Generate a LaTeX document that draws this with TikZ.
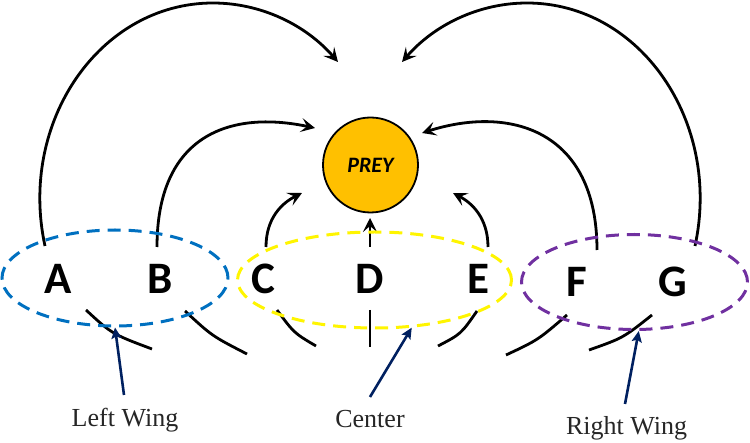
\documentclass[tikz,border=0pt]{standalone}
\usepackage{fontspec}
\setmainfont{Liberation Serif}
\newfontfamily\calfont{Carlito}
\usetikzlibrary{arrows.meta,shapes.geometric}
\definecolor{wingblue}{HTML}{0070C0}
\definecolor{centeryellow}{HTML}{FFF500}
\definecolor{wingpurple}{HTML}{7030A0}
\definecolor{pointernavy}{HTML}{002060}
\definecolor{preyfill}{HTML}{FFC000}
\begin{document}
\begin{tikzpicture}[x=1pt,y=-1pt,
  arr/.style={line width=2.8pt,-{Stealth[length=14pt,width=14pt,inset=6pt]}},
  stub/.style={line width=2.8pt},
  player/.style={font=\calfont\bfseries\fontsize{45}{45}\selectfont,anchor=base,inner sep=0pt},
  group/.style={ellipse,line width=3pt,dash pattern=on 13pt off 8pt,inner sep=0pt},
  pointer/.style={draw=pointernavy,line width=2.6pt,-{Stealth[length=11pt,width=10pt,inset=2pt]}},
  caption/.style={font=\fontsize{26}{26}\selectfont,anchor=base,inner sep=0pt,text=black!85},
  prey/.style={circle,draw=black,line width=1.8pt,fill=preyfill,minimum size=95pt,inner sep=0pt,
    font=\calfont\bfseries\itshape\fontsize{22}{22}\selectfont}]
\useasboundingbox (0,0) rectangle (750,443);

% prey
\node[prey] (prey) at (370.5,165) {PREY};

% start points and tips of the attacking runs
\coordinate (sA) at (45,246);
\coordinate (topA) at (213,3);
\coordinate (tA) at (338,62);
\coordinate (sG) at (695,246);
\coordinate (topG) at (527,3);
\coordinate (tG) at (402,62);
\coordinate (sB) at (157,247);
\coordinate (tB) at (315,128);
\coordinate (sF) at (597,250);
\coordinate (tF) at (422,133);
\coordinate (sC) at (266,247);
\coordinate (tC) at (302,193);
\coordinate (sE) at (488,247);
\coordinate (tE) at (453,193);
\coordinate (sD) at (370,247);
\coordinate (tD) at (370,218);

\draw[arr] (sA) .. controls (18,122) and (99.8,3) .. (topA) .. controls (260,3) and (305,24) .. (tA);
\draw[arr] (sG) .. controls (722,122) and (640.2,3) .. (topG) .. controls (480,3) and (435,24) .. (tG);
\draw[arr] (sB) .. controls (157,135) and (230,110) .. (tB);
\draw[arr] (sF) .. controls (597,130) and (510,105) .. (tF);
\draw[arr] (sC) .. controls (266,218) and (282,203) .. (tC);
\draw[arr] (sE) .. controls (488,218) and (472,203) .. (tE);
\draw[arr] (sD) -- (tD);

% trailing stubs below the groups
\coordinate (uA) at (86,310);  \coordinate (vA) at (152,349);
\coordinate (uB) at (185,311); \coordinate (vB) at (247,354);
\coordinate (uC) at (277,310); \coordinate (vC) at (316,346);
\coordinate (uD) at (370,310); \coordinate (vD) at (370,347);
\coordinate (uE) at (477,311); \coordinate (vE) at (438,346);
\coordinate (uF) at (567,315); \coordinate (vF) at (506,355);
\coordinate (uG) at (652,315); \coordinate (vG) at (589,350);
\draw[stub] (uA) .. controls (112,334) .. (vA);
\draw[stub] (uB) .. controls (212,336) .. (vB);
\draw[stub] (uC) .. controls (294,333) .. (vC);
\draw[stub] (uD) -- (vD);
\draw[stub] (uE) .. controls (461,334) .. (vE);
\draw[stub] (uF) .. controls (538,340) .. (vF);
\draw[stub] (uG) .. controls (623,338) .. (vG);

% groups
\node[group,draw=wingblue,minimum width=226pt,minimum height=96pt] (wingL) at (115,278) {};
\node[group,draw=centeryellow,minimum width=274pt,minimum height=96pt] (center) at (374.5,280) {};
\node[group,draw=wingpurple,minimum width=226pt,minimum height=95pt] (wingR) at (634.5,282) {};

% players
\node[player] (A) at (58,294) {A};
\node[player] (B) at (160,294) {B};
\node[player] (C) at (263,294) {C};
\node[player] (D) at (370,294) {D};
\node[player] (E) at (478,294) {E};
\node[player] (F) at (577,297) {F};
\node[player] (G) at (673,297) {G};

% captions
\node[caption] (capL) at (125,427) {Left Wing};
\node[caption] (capC) at (370,428) {Center};
\node[caption] (capR) at (626.5,435) {Right Wing};

\coordinate (pL) at (124,395);
\coordinate (pC) at (370,397);
\coordinate (pR) at (625,404);
\draw[pointer] (pL) -- (wingL.south);
\draw[pointer] (pC) -- (center.-52);
\draw[pointer] (pR) -- (wingR.-85);
\end{tikzpicture}
\end{document}
